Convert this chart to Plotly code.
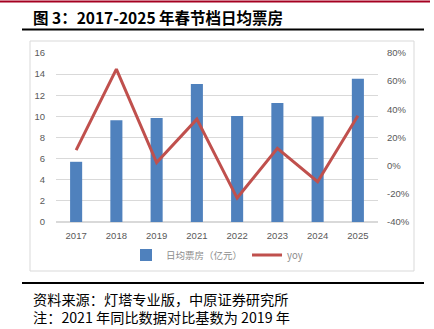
import plotly.graph_objects as go

years = ["2017", "2018", "2019", "2021", "2022", "2023", "2024", "2025"]
box_office = [5.7, 9.63, 9.85, 13.07, 10.04, 11.27, 9.98, 13.57]
yoy = [11.0, 68.5, 2.2, 33.0, -23.0, 12.3, -11.4, 35.5]
left_ticks = [0, 2, 4, 6, 8, 10, 12, 14, 16]
right_ticks = [-40, -20, 0, 20, 40, 60, 80]

W, H = 434, 329
L, R, T, B = 56, 378, 53, 222

fig = go.Figure()
fig.add_trace(go.Bar(x=years, y=box_office, name="日均票房（亿元）",
                     marker=dict(color="#4F81BD", line=dict(width=0)), width=0.3))
fig.add_trace(go.Scatter(x=years, y=yoy, name="yoy", yaxis="y2", mode="lines",
                         line=dict(color="#C0504D", width=3)))

tickfont = dict(family="Liberation Sans, Arial", size=9.5, color="#595959")
fig.update_layout(
    width=W, height=H,
    margin=dict(l=L, r=W - R, t=T, b=H - B, pad=0),
    paper_bgcolor="white", plot_bgcolor="white",
    showlegend=True,
    legend=dict(orientation="h", x=0.5, xanchor="center", y=(B - 255) / (B - T),
                yanchor="middle", font=dict(family="Noto Sans CJK SC", size=9.5, color="#8C8C8C"),
                itemwidth=30, bgcolor="rgba(0,0,0,0)"),
    xaxis=dict(type="category", tickfont=tickfont, showgrid=False, showline=False,
               ticks="", ticklabelstandoff=6),
    yaxis=dict(range=[0, 16], tickvals=left_ticks, tickfont=tickfont, showgrid=True,
               gridcolor="#D9D9D9", gridwidth=1, zeroline=True, zerolinecolor="#D9D9D9",
               showline=False, ticks="", ticklabelstandoff=10),
    yaxis2=dict(range=[-40, 80], tickvals=right_ticks, ticktext=[f"{v}%" for v in right_ticks],
                overlaying="y", side="right", tickfont=tickfont, showgrid=False, zeroline=False,
                showline=False, ticks="", ticklabelstandoff=8),
)

def fx(x):
    return (x - L) / (R - L)

def fy(y):
    return (B - y) / (B - T)

shapes = [
    dict(type="line", xref="paper", yref="paper", x0=fx(0), x1=fx(430), y0=fy(1.5), y1=fy(1.5),
         line=dict(color="#A50021", width=2)),
    dict(type="rect", xref="paper", yref="paper", x0=fx(30), x1=fx(414), y0=fy(271), y1=fy(41),
         line=dict(color="#D9D9D9", width=1)),
    dict(type="line", xref="paper", yref="paper", x0=fx(22), x1=fx(424), y0=fy(29.5), y1=fy(29.5),
         line=dict(color="black", width=2)),
    dict(type="line", xref="paper", yref="paper", x0=fx(22), x1=fx(424), y0=fy(283), y1=fy(283),
         line=dict(color="black", width=2)),
]
fig.update_layout(shapes=shapes)

def ann(text, x, y, size, bold=False, yanchor="middle"):
    fig.add_annotation(text=f"<b>{text}</b>" if bold else text, xref="paper", yref="paper",
                       x=fx(x), y=fy(y), xanchor="left", yanchor=yanchor,
                       showarrow=False, font=dict(family="Noto Sans CJK SC", size=size, color="black"))

ann("图 3：2017-2025 年春节档日均票房", 31, 17, 15.5, bold=True)
ann("资料来源：灯塔专业版，中原证券研究所", 31, 299, 14.2)
ann("注：2021 年同比数据对比基数为 2019 年", 31, 329, 14.2, yanchor="bottom")

fig.write_html("out.html")
